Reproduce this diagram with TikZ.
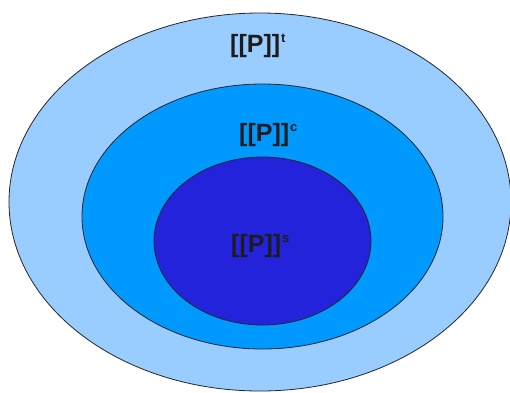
\documentclass[tikz,border=0pt]{standalone}
\usepackage{fontspec}
\setmainfont{Liberation Sans}
\definecolor{outerblue}{HTML}{99CCFF}
\definecolor{midblue}{HTML}{0099FF}
\definecolor{innerblue}{HTML}{2323DC}
\definecolor{txt}{HTML}{1C1C1C}
\tikzset{
  ring/.style={draw=black!85, line width=0.8pt},
  lbl/.style={anchor=base west, inner sep=0pt, text=txt, font=\fontsize{25}{25}\selectfont\bfseries}
}
\newcommand{\supsc}[1]{\kern1pt\raisebox{10pt}{\fontsize{13}{13}\selectfont\bfseries #1}}
\begin{document}
\begin{tikzpicture}[x=1pt,y=-1pt]
\useasboundingbox (0,0) rectangle (510,392);
\begin{scope}
\clip (0,0) rectangle (510,392);
\fill[white] (0,0) rectangle (510,392);
\draw[ring, fill=outerblue] (260,202) ellipse [x radius=251, y radius=189];
\draw[ring, fill=midblue] (262.5,216.5) ellipse [x radius=180.5, y radius=132.5];
\draw[ring, fill=innerblue] (262.5,241) ellipse [x radius=108.5, y radius=84];
\end{scope}
\node[lbl] (t) at (230,52) {[[P]]\supsc{t}};
\node[lbl] (c) at (239,141) {[[P]]\supsc{c}};
\node[lbl] (s) at (231,252) {[[P]]\supsc{s}};
\end{tikzpicture}
\end{document}
